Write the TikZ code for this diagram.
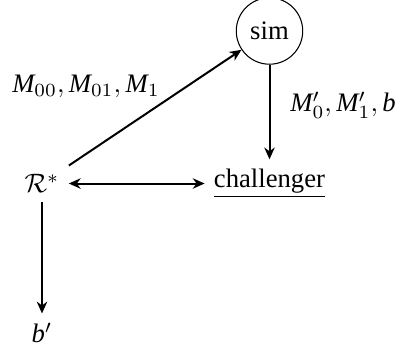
\documentclass[tikz,border=0pt]{standalone}
\usepackage{fontspec}
\setmainfont{Liberation Serif}
\usetikzlibrary{arrows.meta}
\begin{document}
\begin{tikzpicture}[x=0.375pt,y=-0.375pt,
  tipshape/.style={},
  arr/.style={line width=0.75pt,-{Stealth[length=4.4pt,width=3.9pt,inset=1.4pt]}},
  darr/.style={line width=0.75pt,{Stealth[length=4.4pt,width=3.9pt,inset=1.4pt]}-{Stealth[length=4.4pt,width=3.9pt,inset=1.4pt]}},
  simnode/.style={circle,draw,line width=0.4pt}]
\useasboundingbox (0,0) rectangle (400,349);
\node[simnode] (sim) at (269.5,31) {sim};
\node (ch) at (269.5,183.5) {\underline{challenger}};
\node (R) at (42,183.5) {$\mathcal{R}^*$};
\node (b) at (42,333) {$\mathit{b}'$};
\node (l1) at (86,86) {$\mathit{M}_{00},\mathit{M}_{01},\mathit{M}_1$};
\node (l2) at (343,105) {$\mathit{M}'_0,\mathit{M}'_1,\mathit{b}$};
\draw[arr] (R) -- (sim);
\draw[arr] (sim) -- (ch);
\draw[darr] (R) -- (ch);
\draw[arr] (R) -- (b);
\end{tikzpicture}
\end{document}
